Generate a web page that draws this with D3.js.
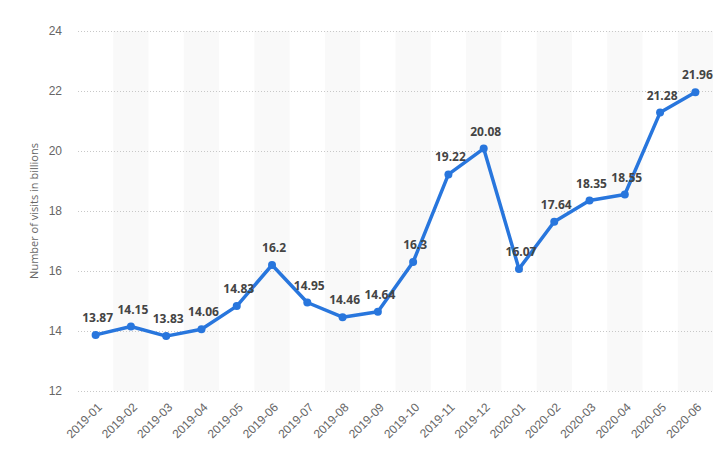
<!DOCTYPE html>
<html>
<head>
<meta charset="utf-8">
<script src="https://cdn.jsdelivr.net/npm/d3@7"></script>
<style>
  body { margin: 0; background: #fff; }
  svg { display: block; font-family: "Open Sans", "DejaVu Sans", sans-serif; }
</style>
</head>
<body>
<svg></svg>
<script>
const maanden = ["2019-01", "2019-02", "2019-03", "2019-04", "2019-05", "2019-06",
    "2019-07", "2019-08", "2019-09", "2019-10", "2019-11", "2019-12",
    "2020-01", "2020-02", "2020-03", "2020-04", "2020-05", "2020-06"]
const bezoeken = [13.87, 14.15, 13.83, 14.06, 14.83, 16.2, 14.95, 14.46, 14.64, 16.3,
    19.22, 20.08, 16.07, 17.64, 18.35, 18.55, 21.28, 21.96]
const yTicks = [12, 14, 16, 18, 20, 22, 24]

const width = 726
const height = 458
const margin = { top: 31, right: 13, bottom: 67, left: 78 }

const svg = d3.select('svg')
    .attr("width", width)
    .attr("height", height)

const x = d3.scaleBand()
    .domain(maanden)
    .range([margin.left, width - margin.right])

const y = d3.scaleLinear()
    .domain([12, 24])
    .range([height - margin.bottom, margin.top])

const data = maanden.map((m, i) => ({ maand: m, waarde: bezoeken[i] }))

// gestreepte achtergrond
svg.append('g')
    .selectAll('rect')
    .data(maanden.filter((m, i) => i % 2 === 1))
    .enter().append('rect')
    .attr('x', d => x(d))
    .attr('y', y(24))
    .attr('width', x.bandwidth())
    .attr('height', y(12) - y(24))
    .attr('fill', '#f9f9f9')

// rasterlijnen
svg.append('g')
    .selectAll('line')
    .data(yTicks)
    .enter().append('line')
    .attr('x1', margin.left)
    .attr('x2', width - margin.right)
    .attr('y1', d => y(d) + 0.5)
    .attr('y2', d => y(d) + 0.5)
    .attr('stroke', '#c8c8c8')
    .attr('stroke-dasharray', '1,2')

// y-as
const yAxis = svg.append('g')
    .attr('transform', `translate(${margin.left - 16},0)`)
    .call(d3.axisLeft(y).tickValues(yTicks).tickSize(0).tickPadding(0))
yAxis.select('.domain').remove()
yAxis.selectAll('text')
    .attr('fill', '#666')
    .style('font-size', '12px')

// x-as
const xAxis = svg.append('g')
    .attr('transform', `translate(0,${height - margin.bottom + 10})`)
    .call(d3.axisBottom(x).tickSize(0).tickPadding(0))
xAxis.select('.domain').remove()
xAxis.selectAll('text')
    .attr('fill', '#666')
    .style('font-size', '12px')
    .attr('text-anchor', 'end')
    .attr('dy', '0.35em')
    .attr('transform', 'translate(4,4) rotate(-45)')

// as-titel
svg.append('text')
    .attr('transform', `translate(38,${(y(12) + y(24)) / 2}) rotate(-90)`)
    .attr('text-anchor', 'middle')
    .attr('fill', '#666')
    .style('font-size', '11px')
    .text('Number of visits in billions')

// lijn
const lijn = d3.line()
    .x(d => x(d.maand) + x.bandwidth() / 2)
    .y(d => y(d.waarde))

svg.append('path')
    .datum(data)
    .attr('d', lijn)
    .attr('fill', 'none')
    .attr('stroke', '#2876dd')
    .attr('stroke-width', 3.5)
    .attr('stroke-linejoin', 'round')

svg.append('g')
    .selectAll('circle')
    .data(data)
    .enter().append('circle')
    .attr('cx', d => x(d.maand) + x.bandwidth() / 2)
    .attr('cy', d => y(d.waarde))
    .attr('r', 4)
    .attr('fill', '#2876dd')

// waardelabels
svg.append('g')
    .selectAll('text')
    .data(data)
    .enter().append('text')
    .attr('x', d => x(d.maand) + x.bandwidth() / 2 + 2)
    .attr('y', d => y(d.waarde) - 13)
    .attr('text-anchor', 'middle')
    .attr('fill', '#444')
    .style('font-size', '12px')
    .style('font-weight', 'bold')
    .text(d => d.waarde)
</script>
</body>
</html>
